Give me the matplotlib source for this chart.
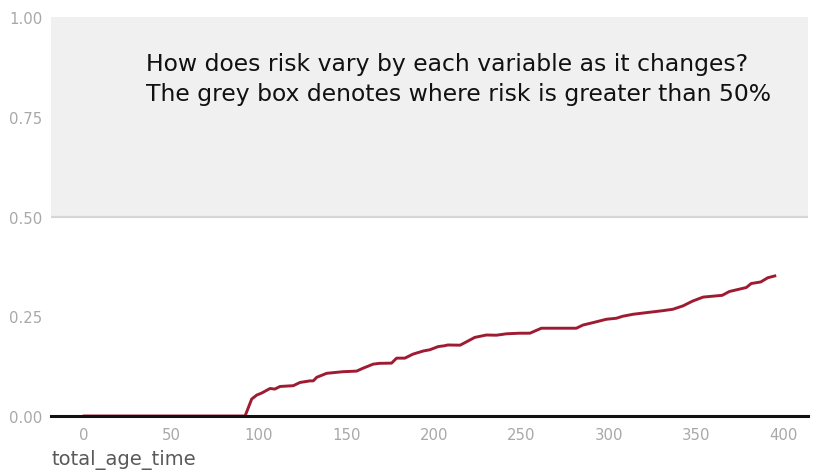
import matplotlib
matplotlib.use("Agg")
import matplotlib.pyplot as plt

# data
age_time = [0, 92, 95.8, 98.7, 101.5, 106.3, 109, 112, 119.6, 123.4, 129, 131, 133, 138.7,
            148, 155.8, 159.6, 165.3, 169, 175.8, 178.7, 183.4, 188, 194, 197.7, 202.5,
            206, 208, 215, 218.7, 223.4, 230, 235.8, 241.5, 249, 254.9, 261.5, 281.5,
            285.3, 291, 298.7, 304.4, 308, 314, 321.5, 331, 336.7, 342.5, 348, 354, 365,
            369, 378.7, 381.5, 387, 391, 395]
risk = [0, 0, 0.0425, 0.0525, 0.0575, 0.069, 0.0675, 0.074, 0.076, 0.084, 0.088, 0.088,
        0.097, 0.107, 0.111, 0.1125, 0.12, 0.13, 0.132, 0.1325, 0.145, 0.145, 0.155, 0.163,
        0.166, 0.174, 0.176, 0.178, 0.1775, 0.186, 0.197, 0.203, 0.2025, 0.206, 0.2075,
        0.2075, 0.22, 0.22, 0.228, 0.234, 0.2425, 0.245, 0.25, 0.255, 0.259, 0.264, 0.2675,
        0.276, 0.288, 0.298, 0.3025, 0.312, 0.322, 0.332, 0.336, 0.3465, 0.351]
xticks = [0, 50, 100, 150, 200, 250, 300, 350, 400]
yticks = [0.0, 0.25, 0.5, 0.75, 1.0]
title_lines = ["How does risk vary by each variable as it changes?",
               "The grey box denotes where risk is greater than 50%"]

plt.rcParams["font.family"] = ["DejaVu Sans"]

fig = plt.figure(figsize=(8.17, 4.77), dpi=100)
ax = fig.add_axes([51/817, 1-417/477, (808-51)/817, (417-18)/477])

ax.axhspan(0.5, 1.0, color="#f0f0f0", zorder=0, lw=0)
ax.axhline(0.5, color="#d6d6d6", lw=1.6, zorder=1)
ax.plot(age_time, risk, color="#9e1b32", lw=2.1, zorder=3)
ax.axhline(0.0, color="#111111", lw=2.2, zorder=4, clip_on=False)

ax.set_xlim(-19, 414)
ax.set_ylim(0, 1.0)
ax.set_xticks(xticks)
ax.set_yticks(yticks)
ax.set_yticklabels([f"{v:.2f}" for v in yticks])
for s in ax.spines.values():
    s.set_visible(False)
ax.tick_params(length=0, colors="#a8a8a8", labelsize=10.7)
ax.tick_params(axis="x", pad=8)
ax.tick_params(axis="y", pad=6)

ax.set_xlabel("total_age_time", fontsize=14, color="#595959")
ax.xaxis.set_label_coords(0.0, -(465 - 417) / 399)
ax.xaxis.label.set_horizontalalignment("left")
ax.xaxis.label.set_verticalalignment("baseline")

for i, line in enumerate(title_lines):
    fig.text(146/817, 1 - (71.5 + 29 * i) / 477, line, fontsize=16.9,
             color="#111111", va="baseline", ha="left")

fig.savefig("out.png", dpi=100, facecolor="white")
